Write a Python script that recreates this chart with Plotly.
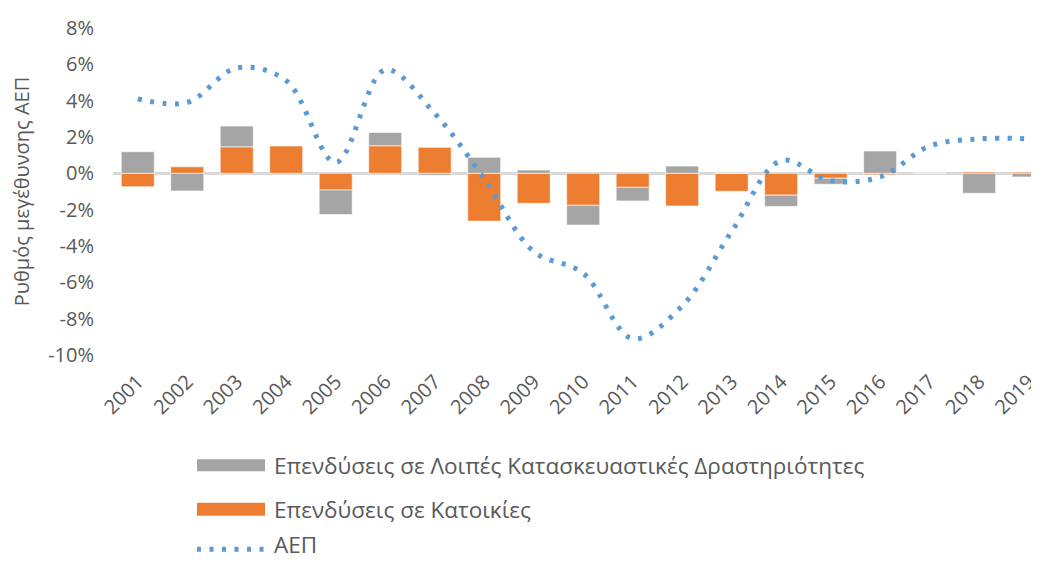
import plotly.graph_objects as go

years = [str(y) for y in range(2001, 2020)]
housing = [-0.74, 0.36, 1.46, 1.52, -0.92, 1.52, 1.43, -2.63, -1.65, -1.76,
           -0.77, -1.80, -0.99, -1.20, -0.27, -0.08, 0.0, 0.08, 0.07]
other = [1.19, -0.97, 1.14, 0.0, -1.35, 0.73, -0.10, 0.88, 0.18, -1.09,
         -0.75, 0.40, 0.0, -0.62, -0.33, 1.23, 0.05, -1.10, -0.20]
gdp = [4.1, 3.9, 5.8, 5.1, 0.6, 5.7, 3.3, -0.3, -4.3, -5.5,
       -9.1, -7.3, -3.2, 0.7, -0.4, -0.2, 1.5, 1.9, 1.9]
yticks = [8, 6, 4, 2, 0, -2, -4, -6, -8, -10]

names = ["Επενδύσεις σε Λοιπές Κατασκευαστικές Δραστηριότητες",
         "Επενδύσεις σε Κατοικίες", "ΑΕΠ"]

ORANGE = "#ed7d31"
GREY = "#a5a5a5"
BLUE = "#5b9bd5"
TXT = "#595959"
FONT = "Open Sans"

OFF = 8  # default page body margin
W, H = 1039 - OFF, 561 - OFF
L, T = 113 - OFF, 28 - OFF
PB = 355.5 - OFF
PW = W - L
PH = PB - T


def px(x):
    return (x - OFF - L) / PW


def py(y):
    return (PB - (y - OFF)) / PH


fig = go.Figure()
fig.add_trace(go.Bar(x=years, y=housing, name=names[1], marker_color=ORANGE,
                     marker_line=dict(color="rgba(255,255,255,0.6)", width=1),
                     showlegend=False))
fig.add_trace(go.Bar(x=years, y=other, name=names[0], marker_color=GREY,
                     marker_line=dict(color="rgba(255,255,255,0.6)", width=1),
                     showlegend=False))
fig.add_trace(go.Scatter(x=years, y=gdp, name=names[2], mode="lines",
                         line=dict(color=BLUE, width=5, shape="spline",
                                   smoothing=1, dash="4px,8.5px"),
                         showlegend=False))

# manual legend
shapes = [
    dict(type="rect", xref="paper", yref="paper", x0=px(197), x1=px(265),
         y0=py(472), y1=py(460), fillcolor=GREY, line=dict(width=0)),
    dict(type="rect", xref="paper", yref="paper", x0=px(197), x1=px(265),
         y0=py(516.5), y1=py(503.5), fillcolor=ORANGE, line=dict(width=0)),
    dict(type="line", xref="paper", yref="paper", x0=px(197), x1=px(266),
         y0=py(550), y1=py(550), line=dict(color=BLUE, width=5, dash="4px,8.5px")),
]
annotations = []
for name, yy in zip(names, [466, 510, 545]):
    annotations.append(dict(text=name, xref="paper", yref="paper", x=px(272), y=py(yy),
                            xanchor="left", yanchor="middle", showarrow=False,
                            font=dict(family=FONT, size=22.5, color=TXT)))

fig.update_layout(
    width=W, height=H,
    margin=dict(l=L, r=0, t=T, b=H - PB, pad=0),
    barmode="relative", bargap=0.333,
    plot_bgcolor="white", paper_bgcolor="white",
    font=dict(family=FONT, size=20, color=TXT),
    shapes=shapes, annotations=annotations,
    xaxis=dict(type="category", range=[-0.5, 18.21], tickangle=-45,
               showgrid=False, showline=False, ticks="", ticklabelstandoff=10,
               tickfont=dict(size=20, color=TXT)),
    yaxis=dict(range=[-10, 8], tickvals=yticks, ticktext=[f"{v}%" for v in yticks],
               showgrid=False, zeroline=True, zerolinecolor="#d9d9d9", zerolinewidth=3,
               layer="above traces", ticks="", ticklabelstandoff=18,
               tickfont=dict(size=20, color=TXT),
               title=dict(text="Ρυθμός μεγέθυνσης ΑΕΠ", standoff=16,
                          font=dict(size=20, color=TXT))),
)

fig.write_html("out.html")
